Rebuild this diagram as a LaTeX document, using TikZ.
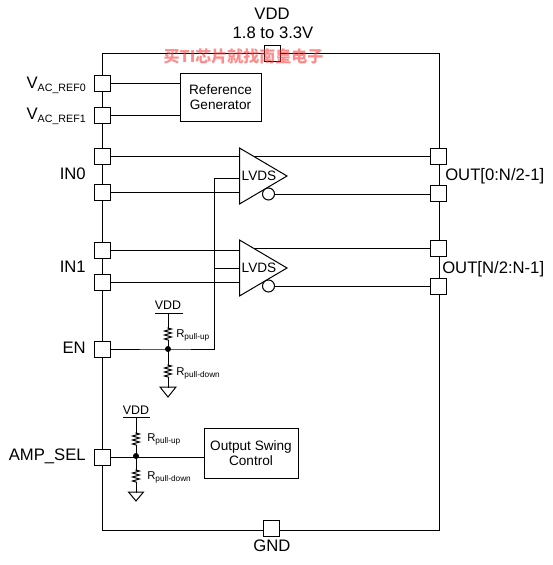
\documentclass[tikz,border=0pt]{standalone}
\usepackage{fontspec}
\setmainfont{Liberation Sans}
\newfontfamily\cjkfont{Noto Sans CJK SC}
\usepackage{tikz}
\usetikzlibrary{decorations.pathmorphing}
\tikzset{
  pin/.style={draw,fill=white,minimum size=12pt,inner sep=0pt,line width=0.75pt},
  block/.style={draw,fill=white,align=center,font=\fontsize{10.2}{11.5}\selectfont,line width=0.75pt},
  wire/.style={line width=0.75pt,line cap=rect},
  lbl/.style={font=\fontsize{12.5}{14}\selectfont,inner sep=0pt},
  rlbl/.style={font=\fontsize{8.5}{10}\selectfont,inner sep=0pt,right},
  rzig/.style={decorate,decoration={zigzag,segment length=3pt,amplitude=2.6pt}},
  bubble/.style={circle,draw,fill=white,minimum size=9pt,inner sep=0pt,line width=0.75pt},
  dot/.style={circle,fill=black,minimum size=4.5pt,inner sep=0pt}
}
\begin{document}
\begin{tikzpicture}[x=0.75pt,y=-0.75pt]
\useasboundingbox (0,0) rectangle (553,565);
% device outline
\draw [wire] (102,53) rectangle (439,530);
% pins
\node [pin] (vdd) at (272,53) {};
\node [pin] (gnd) at (271,528) {};
\node [pin] (vref0) at (102,83) {};
\node [pin] (vref1) at (102,115) {};
\node [pin] (inzp) at (102,156) {};
\node [pin] (inzn) at (102,192.5) {};
\node [pin] (inop) at (102,250) {};
\node [pin] (inon) at (102,282) {};
\node [pin] (en) at (102,349) {};
\node [pin] (amp) at (102,457) {};
\node [pin] (outzp) at (438,156) {};
\node [pin] (outzn) at (438,193.5) {};
\node [pin] (outop) at (438,248) {};
\node [pin] (outon) at (438,286) {};
% pin labels
\node [lbl] at (272,14) {VDD};
\node [lbl] at (273,33) {1.8 to 3.3V};
\node [lbl] at (272,546) {GND};
\node [lbl,left] at (86,85) {V\raisebox{-2.5pt}{\fontsize{8}{10}\selectfont AC\_REF0}};
\node [lbl,left] at (86,116) {V\raisebox{-2.5pt}{\fontsize{8}{10}\selectfont AC\_REF1}};
\node [lbl,left] at (86,174) {IN0};
\node [lbl,left] at (86,267) {IN1};
\node [lbl,left] at (86,348) {EN};
\node [lbl,left] at (86,456) {AMP\_SEL};
\node [lbl,right] at (445,176) {OUT[0:N/2-1]};
\node [lbl,right] at (442,269) {OUT[N/2:N-1]};
% reference generator
\node [block,minimum width=60.75pt,minimum height=36pt] (refgen) at (220.5,97) {Reference\\Generator};
\draw [wire] (vref0) -- (refgen.west |- vref0);
\draw [wire] (vref1) -- (refgen.west |- vref1);
% lvds buffers
\coordinate (bufz) at (239.5,176);
\coordinate (bufo) at (239.5,268);
\coordinate (enz) at (239.5,178);
\coordinate (eno) at (239.5,268);
\coordinate (entop) at (214,178);
\coordinate (enbr) at (214,268);
\coordinate (enj) at (168,349);
\draw [wire] (inzp) -- (outzp);
\draw [wire] (inzn) -- (bufz |- inzn);
\draw [wire] (inop) -- (bufo |- inop);
\draw [wire] (bufo |- outop) -- (outop);
\draw [wire] (inon) -- (bufo |- inon);
\draw [wire] (en) -- (enj) -- (enj -| entop) -- (entop) -- (enz);
\draw [wire] (enbr) -- (eno);
\draw [wire,fill=white] (239.5,148) -- (287,176) -- (239.5,204) -- cycle;
\draw [wire,fill=white] (239.5,240) -- (287,268) -- (239.5,296) -- cycle;
\node [block,draw=none,fill=none,inner sep=0pt] at (259,176) {LVDS};
\node [block,draw=none,fill=none,inner sep=0pt] at (259,268) {LVDS};
\node [bubble] (bubz) at (268.5,194) {};
\node [bubble] (bubo) at (268.5,286) {};
\draw [wire] (bubz) -- (outzn.west |- bubz);
\draw [wire] (bubo) -- (outon);
% EN pull network
\node [font=\fontsize{9.3}{10}\selectfont,inner sep=0pt] (vdda) at (168,305.5) {VDD};
\draw [wire] (155,313) -- (182,313);
\draw [wire] (168,313) -- (168,328);
\draw [wire,rzig] (168,328) -- (168,340);
\draw [wire] (168,340) -- (168,365);
\draw [wire,rzig] (168,365) -- (168,377);
\draw [wire] (168,377) -- (168,387);
\draw [wire] (160,387) -- (176,387) -- (168,397) -- cycle;
\node [dot] (enjd) at (enj) {};
\node [rlbl] at (176,335) {R\raisebox{-1.5pt}{\fontsize{6.2}{8}\selectfont pull-up}};
\node [rlbl] at (176,373) {R\raisebox{-1.5pt}{\fontsize{6.2}{8}\selectfont pull-down}};
% AMP_SEL pull network
\node [font=\fontsize{9.3}{10}\selectfont,inner sep=0pt] (vddb) at (136,410.5) {VDD};
\draw [wire] (123,417) -- (149,417);
\draw [wire] (136,417) -- (136,433);
\draw [wire,rzig] (136,433) -- (136,445);
\draw [wire] (136,445) -- (136,470);
\draw [wire,rzig] (136,470) -- (136,482);
\draw [wire] (136,482) -- (136,492);
\draw [wire] (128.5,492) -- (143.5,492) -- (136,501) -- cycle;
\node [rlbl] at (147,439) {R\raisebox{-1.5pt}{\fontsize{6.2}{8}\selectfont pull-up}};
\node [rlbl] at (147,477) {R\raisebox{-1.5pt}{\fontsize{6.2}{8}\selectfont pull-down}};
\node [block,minimum width=70.5pt,minimum height=37.5pt] (swing) at (251,453) {Output Swing\\Control};
\draw [wire] (amp) -- (swing.west |- amp);
\node [dot] at (136,456) {};
% watermark
\node [text=red!75!white,opacity=0.6,font=\cjkfont\bfseries\fontsize{12}{14}\selectfont,inner sep=0pt] at (243.5,56) {买TI芯片就找南皇电子};
\end{tikzpicture}
\end{document}
